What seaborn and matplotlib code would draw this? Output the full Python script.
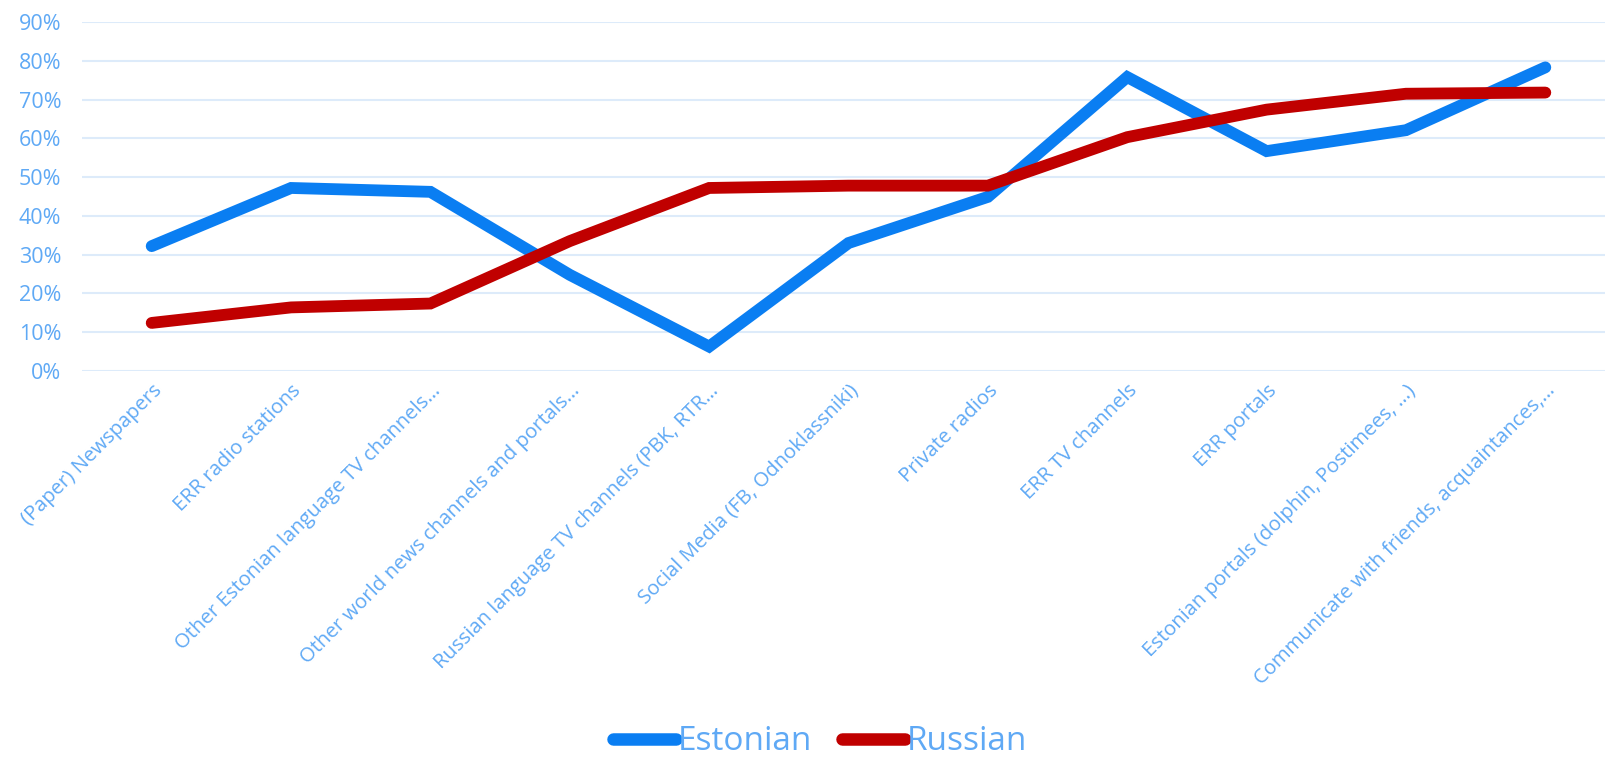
import matplotlib
matplotlib.use('Agg')
import matplotlib.pyplot as plt
import seaborn as sns
import pandas as pd
from matplotlib.ticker import PercentFormatter

categories = [
    '(Paper) Newspapers',
    'ERR radio stations',
    'Other Estonian language TV channels…',
    'Other world news channels and portals…',
    'Russian language TV channels (PBK, RTR…',
    'Social Media (FB, Odnoklassniki)',
    'Private radios',
    'ERR TV channels',
    'ERR portals',
    'Estonian portals (dolphin, Postimees, …)',
    'Communicate with friends, acquaintances,…',
]
estonian = [0.322, 0.472, 0.462, 0.248, 0.063, 0.330, 0.449, 0.758, 0.567, 0.621, 0.783]
russian = [0.124, 0.164, 0.174, 0.335, 0.472, 0.478, 0.478, 0.603, 0.674, 0.715, 0.718]
yticks = [i / 10 for i in range(10)]

text_color = '#5FA9F5'
grid_color = '#DDEBFA'

df = pd.DataFrame({
    'category': categories * 2,
    'share': estonian + russian,
    'group': ['Estonian'] * len(categories) + ['Russian'] * len(categories),
})

sns.set_style('white')
plt.rcParams['font.family'] = ['Open Sans', 'DejaVu Sans']

fig = plt.figure(figsize=(16.05, 7.62), dpi=100)
ax = fig.add_axes([82 / 1605, 391 / 762, (1615 - 82) / 1605, 349 / 762])

sns.lineplot(data=df, x='category', y='share', hue='group', sort=False,
             palette={'Estonian': '#0A7EF2', 'Russian': '#C00000'},
             linewidth=8.5, solid_capstyle='round', solid_joinstyle='miter',
             ax=ax)

ax.set_xlim(-0.5, len(categories) - 0.5)
ax.set_ylim(0, 0.9)
ax.set_yticks(yticks)
ax.yaxis.set_major_formatter(PercentFormatter(1.0, decimals=0))
ax.grid(axis='y', color=grid_color, linewidth=1.5)
ax.set_axisbelow(True)
for s in ax.spines.values():
    s.set_visible(False)
ax.tick_params(axis='y', length=0, pad=15, labelsize=15.5, labelcolor=text_color)
ax.tick_params(axis='x', length=0, pad=7, labelsize=14.6, labelcolor=text_color)
ax.set_xticks(range(len(categories)))
ax.set_xticklabels(categories, rotation=45, ha='right', rotation_mode='anchor')
ax.set_xlabel('')
ax.set_ylabel('')

leg = ax.legend(loc='center', bbox_to_anchor=(820 / 1605, 20 / 762),
                bbox_transform=fig.transFigure, ncol=2, frameon=False,
                fontsize=24, handlelength=1.9, handletextpad=0.05,
                columnspacing=0.9, labelcolor=text_color,
                borderpad=0.2)
for line in leg.get_lines():
    line.set_linewidth(9)
    line.set_solid_capstyle('round')

fig.savefig('out.png', dpi=100)
